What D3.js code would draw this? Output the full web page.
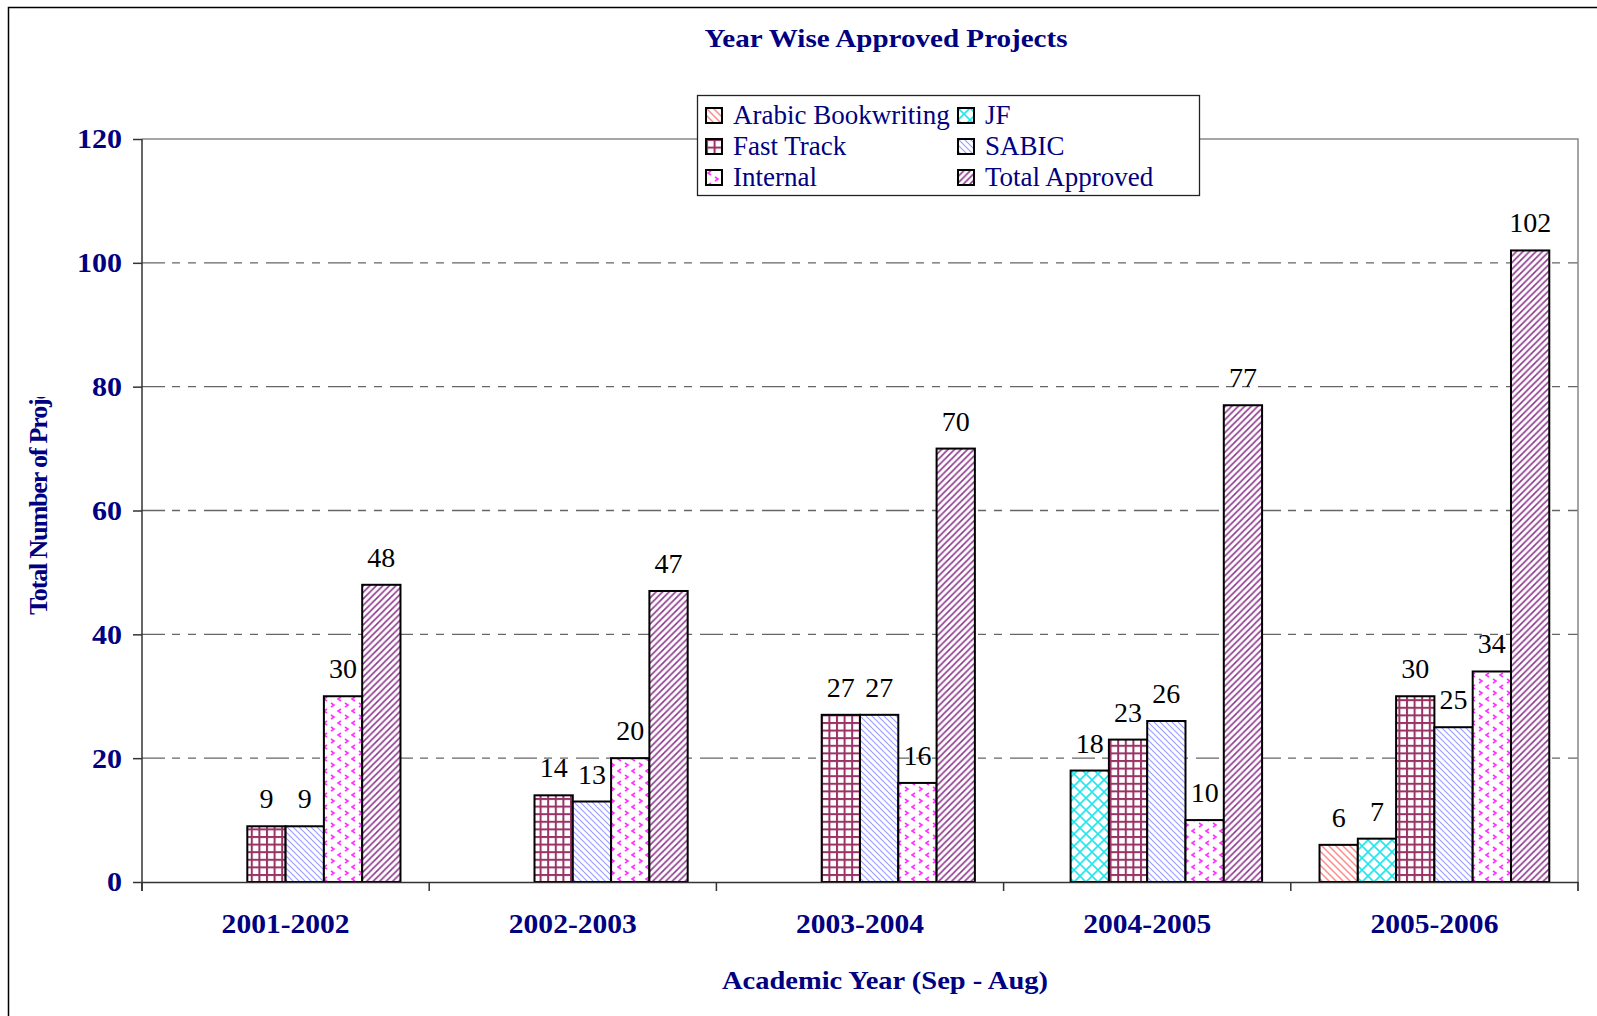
<!DOCTYPE html>
<html>
<head>
<meta charset="utf-8" />
<title>Year Wise Approved Projects</title>
<script type="text/javascript" src="https://d3js.org/d3.v7.min.js"></script>
<style>
  body { margin: 0; background: #fff; }
  text { font-family: "Liberation Serif", "Times New Roman", serif; }
  .navy { fill: #000080; }
</style>
</head>
<body>
<script type="text/javascript">
// data
var categories = ["2001-2002", "2002-2003", "2003-2004", "2004-2005", "2005-2006"];
var seriesNames = ["Arabic Bookwriting", "JF", "Fast Track", "SABIC", "Internal", "Total Approved"];
var arabic = [0, 0, 0, 0, 6];
var jf = [0, 0, 0, 18, 7];
var fastTrack = [9, 14, 27, 23, 30];
var sabic = [9, 13, 27, 26, 25];
var internal = [30, 20, 16, 10, 34];
var totalApproved = [48, 47, 70, 77, 102];
var yTicks = [0, 20, 40, 60, 80, 100, 120];

var seriesValues = [arabic, jf, fastTrack, sabic, internal, totalApproved];
var patternIds = ["p-arabic", "p-jf", "p-fast", "p-sabic", "p-internal", "p-total"];

var W = 1597, H = 1016;
var plot = {left: 142, right: 1578, top: 139, bottom: 882};

var svg = d3.select("body").append("svg")
    .attr("width", W)
    .attr("height", H);

// ---- fill patterns ----
var defs = svg.append("defs");
function pat(id, w, h) {
    var p = defs.append("pattern").attr("id", id)
        .attr("patternUnits", "userSpaceOnUse")
        .attr("width", w).attr("height", h);
    p.append("rect").attr("width", w).attr("height", h).attr("fill", "#fff");
    return p;
}
pat("p-arabic", 7, 7).append("path")
    .attr("d", "M0,0L7,7M-1,6L1,8M6,-1L8,1")
    .attr("stroke", "#ff8c8c").attr("stroke-width", 1.5);
var pj = pat("p-jf", 12, 12);
pj.append("path").attr("d", "M0,0L12,12M12,0L0,12")
    .attr("stroke", "#22e6ee").attr("stroke-width", 1.6);
var pf = pat("p-fast", 7.6, 7.6);
pf.append("rect").attr("x", 0).attr("y", 0).attr("width", 2).attr("height", 7.6).attr("fill", "#993366");
pf.append("rect").attr("x", 0).attr("y", 0).attr("width", 7.6).attr("height", 2).attr("fill", "#993366");
pat("p-sabic", 6, 6).append("path")
    .attr("d", "M0,0L6,6M-1,5L1,7M5,-1L7,1")
    .attr("stroke", "#9a9cff").attr("stroke-width", 1.1);
var pi = pat("p-internal", 14, 12);
pi.append("path")
    .attr("d", "M5,1L2,3L5,5M9,7L12,9L9,11")
    .attr("fill", "none").attr("stroke", "#ff33ff").attr("stroke-width", 1.6);
pat("p-total", 6.5, 6.5).append("path")
    .attr("d", "M0,6.5L6.5,0M-1,1L1,-1M5.5,7.5L7.5,5.5")
    .attr("stroke", "#8e3a8e").attr("stroke-width", 1.6);

// ---- outer chart frame (only left / top are inside the picture) ----
svg.append("rect")
    .attr("x", 8.5).attr("y", 7.5)
    .attr("width", W + 20).attr("height", H + 20)
    .attr("fill", "none").attr("stroke", "#000").attr("stroke-width", 1.5);

// ---- scales ----
var x = d3.scaleBand().domain(categories).range([plot.left, plot.right]);
var xs = d3.scaleBand().domain(seriesNames).range([0, x.bandwidth()])
    .paddingInner(0).paddingOuter(0.75);
var y = d3.scaleLinear().domain([0, 120]).range([plot.bottom, plot.top]);

// ---- gridlines ----
svg.append("g").selectAll("line")
    .data(yTicks.filter(function(d) { return d > 0 && d < 120; }))
    .join("line")
    .attr("x1", plot.left).attr("x2", plot.right)
    .attr("y1", function(d) { return y(d); })
    .attr("y2", function(d) { return y(d); })
    .attr("stroke", "#666").attr("stroke-width", 1.3)
    .attr("stroke-dasharray", "23,7,8,8,8,8");

// plot area border (top and right)
svg.append("path")
    .attr("d", "M" + plot.left + "," + y(120) + "H" + plot.right + "V" + (plot.bottom + 9))
    .attr("fill", "none").attr("stroke", "#888").attr("stroke-width", 1.5);

// ---- bars ----
var groups = svg.append("g").selectAll("g")
    .data(seriesNames)
    .join("g");

groups.each(function(name, si) {
    var g = d3.select(this);
    var vals = seriesValues[si].map(function(v, i) { return {cat: categories[i], v: v}; })
        .filter(function(d) { return d.v > 0; });
    g.selectAll("rect").data(vals).join("rect")
        .attr("x", function(d) { return x(d.cat) + xs(name); })
        .attr("y", function(d) { return y(d.v); })
        .attr("width", xs.bandwidth())
        .attr("height", function(d) { return y(0) - y(d.v); })
        .attr("fill", "url(#" + patternIds[si] + ")")
        .attr("stroke", "#000").attr("stroke-width", 2);
    g.selectAll("text").data(vals).join("text")
        .attr("x", function(d) { return x(d.cat) + xs(name) + xs.bandwidth() / 2; })
        .attr("y", function(d) { return y(d.v) - 18; })
        .attr("text-anchor", "middle")
        .attr("font-size", 28)
        .attr("fill", "#000")
        .text(function(d) { return d.v; });
});

// ---- y axis ----
var yAxis = svg.append("g")
    .attr("transform", "translate(" + plot.left + ",0)")
    .call(d3.axisLeft(y).tickValues(yTicks).tickSize(9).tickSizeOuter(0).tickPadding(11));
yAxis.select(".domain").attr("stroke", "#333").attr("stroke-width", 1.5)
    .attr("d", "M0," + plot.top + "V" + (plot.bottom + 9));
yAxis.selectAll(".tick line").attr("stroke", "#333").attr("stroke-width", 1.5);
yAxis.selectAll(".tick text")
    .attr("class", "navy")
    .attr("font-size", 28).attr("font-weight", "bold")
    .attr("textLength", function(d) { return String(d).length * 15; })
    .attr("lengthAdjust", "spacingAndGlyphs")
    .attr("dy", "0.32em");

// ---- x axis: labels at centres, ticks at boundaries ----
var xAxis = svg.append("g")
    .attr("transform", "translate(0," + plot.bottom + ")")
    .call(d3.axisBottom(x).tickSize(0).tickSizeOuter(0).tickPadding(0));
xAxis.select(".domain").attr("stroke", "#333").attr("stroke-width", 1.5);
xAxis.selectAll(".tick text")
    .attr("class", "navy")
    .attr("font-size", 28).attr("font-weight", "bold")
    .attr("textLength", 128)
    .attr("lengthAdjust", "spacingAndGlyphs")
    .attr("dy", 0).attr("y", 51);
var bounds = categories.map(function(c) { return x(c); }).concat([plot.right]);
svg.append("g").selectAll("line").data(bounds).join("line")
    .attr("x1", function(d) { return d; }).attr("x2", function(d) { return d; })
    .attr("y1", plot.bottom).attr("y2", plot.bottom + 9)
    .attr("stroke", "#333").attr("stroke-width", 1.5);

// ---- titles ----
svg.append("text").attr("class", "navy")
    .attr("x", 886).attr("y", 47)
    .attr("text-anchor", "middle")
    .attr("font-size", 26).attr("font-weight", "bold")
    .attr("textLength", 363).attr("lengthAdjust", "spacingAndGlyphs")
    .text("Year Wise Approved Projects");

svg.append("text").attr("class", "navy")
    .attr("x", 885).attr("y", 989)
    .attr("text-anchor", "middle")
    .attr("font-size", 26).attr("font-weight", "bold")
    .attr("textLength", 326).attr("lengthAdjust", "spacingAndGlyphs")
    .text("Academic Year (Sep - Aug)");

// y title is cut off at the top in the original
defs.append("clipPath").attr("id", "ytclip")
    .append("rect").attr("x", 0).attr("y", 397).attr("width", 80).attr("height", 300);
svg.append("g").attr("clip-path", "url(#ytclip)")
    .append("text").attr("class", "navy")
    .attr("transform", "translate(47,615) rotate(-90) scale(1.05,1)")
    .attr("font-size", 25).attr("font-weight", "bold")
    .attr("letter-spacing", -1.2)
    .text("Total Number of Projects");

// ---- legend ----
var leg = svg.append("g");
leg.append("rect")
    .attr("x", 697.5).attr("y", 95.5).attr("width", 502).attr("height", 100)
    .attr("fill", "#fff").attr("stroke", "#222").attr("stroke-width", 1.3);
var li = leg.selectAll("g").data(seriesNames).join("g")
    .attr("transform", function(d, i) {
        return "translate(" + (i % 2 === 0 ? 706 : 958) + "," + (108 + Math.floor(i / 2) * 31) + ")";
    });
li.append("rect")
    .attr("width", 16).attr("height", 15)
    .attr("fill", function(d, i) { return "url(#" + patternIds[i] + ")"; })
    .attr("stroke", "#000").attr("stroke-width", 2);
li.append("text").attr("class", "navy")
    .attr("x", 27).attr("y", 16)
    .attr("font-size", 27)
    .text(function(d) { return d; });
</script>
</body>
</html>
